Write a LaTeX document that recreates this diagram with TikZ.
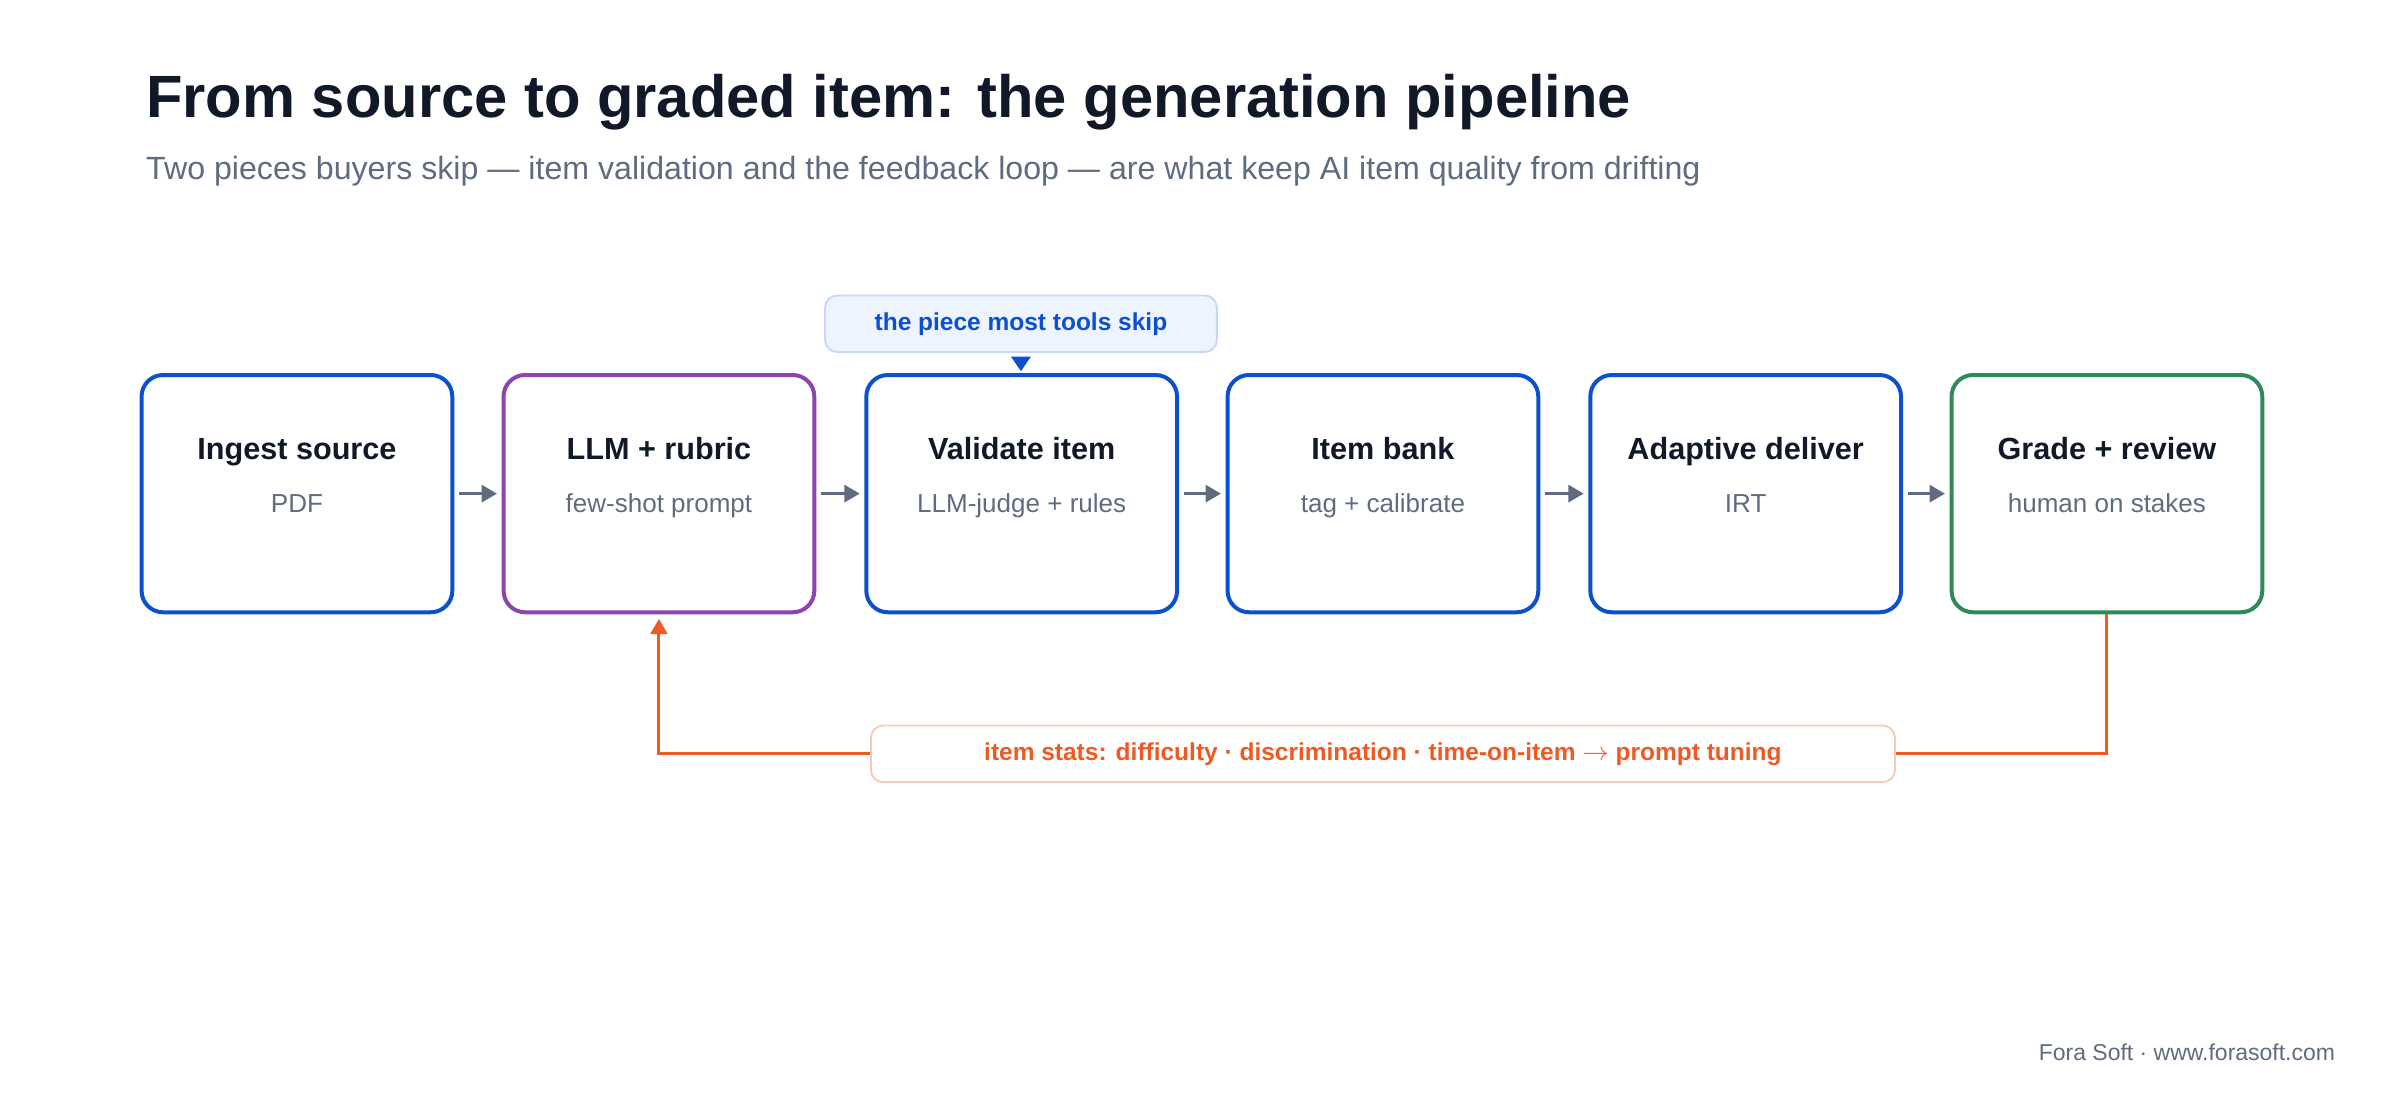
\documentclass[tikz,border=0pt]{standalone}
\usepackage{fontspec}
\setmainfont{Liberation Sans}
\usetikzlibrary{positioning,arrows.meta,calc}
\definecolor{inkdark}{HTML}{111827}
\definecolor{slate}{HTML}{5F6B80}
\definecolor{stageblue}{HTML}{0B50D0}
\definecolor{stagepurple}{HTML}{8E44AD}
\definecolor{stagegreen}{HTML}{2E8B57}
\definecolor{loopred}{HTML}{F05A22}
\definecolor{calloutfill}{HTML}{EEF4FD}
\definecolor{calloutline}{HTML}{C7D7F5}
\definecolor{looplight}{HTML}{F8C9B5}
\tikzset{
  stage/.style={draw=#1,line width=2.6pt,rounded corners=14pt,minimum width=203pt,minimum height=155pt,inner sep=0pt},
  stagetitle/.style={font=\fontsize{20}{24}\selectfont\bfseries,text=inkdark},
  stagenote/.style={font=\fontsize{17}{20}\selectfont,text=slate},
  flow/.style={-{Triangle[length=10pt,width=11pt]},line width=2.2pt,draw=slate},
}
\begin{document}
\begin{tikzpicture}[x=1pt,y=-1pt]
  \useasboundingbox (0,0) rectangle (1568,716);

  % Title
  \node[anchor=base west,font=\fontsize{39}{46}\selectfont\bfseries,text=inkdark] (title) at (92,77) {From source to graded item: the generation pipeline};
  \node[anchor=base west,font=\fontsize{21}{25}\selectfont,text=slate] (subtitle) at (92,117) {Two pieces buyers skip — item validation and the feedback loop — are what keep AI item quality from drifting};

  % Stages
  \node[stage=stageblue] (ingest) at (194,322.5) {};
  \node[stage=stagepurple] (llm) at (430.5,322.5) {};
  \node[stage=stageblue] (validate) at (667.5,322.5) {};
  \node[stage=stageblue] (bank) at (903.5,322.5) {};
  \node[stage=stageblue] (adaptive) at (1140.5,322.5) {};
  \node[stage=stagegreen] (grade) at (1376.5,322.5) {};

  \foreach \n/\t/\s in {ingest/Ingest source/PDF / slide / video,
                        llm/LLM + rubric/few-shot prompt,
                        validate/Validate item/LLM-judge + rules,
                        bank/Item bank/tag + calibrate,
                        adaptive/Adaptive deliver/IRT / heuristic,
                        grade/Grade + review/human on stakes} {
    \node[stagetitle,anchor=base] at ($(\n.center)+(0,-22)$) {\t};
    \node[stagenote,anchor=base] at ($(\n.center)+(0,12)$) {\s};
  }

  % Forward arrows
  \foreach \a/\b in {ingest/llm,llm/validate,validate/bank,bank/adaptive,adaptive/grade}
    \draw[flow] ($(\a.east)+(3,0)$) -- ($(\b.west)+(-3,0)$);

  % Callout
  \node[draw=calloutline,fill=calloutfill,line width=1.2pt,rounded corners=8pt,minimum width=256pt,minimum height=37pt,font=\fontsize{16}{19}\selectfont\bfseries,text=stageblue] (callout) at (667,211.5) {the piece most tools skip};
  \fill[stageblue] (660.5,233) -- (673.5,233) -- (667,242.5) -- cycle;

  % Feedback loop
  \node[draw=looplight,fill=white,line width=1.2pt,rounded corners=8pt,minimum width=669pt,minimum height=37pt,font=\fontsize{16}{19}\selectfont\bfseries,text=loopred] (loop) at (903.5,492.5) {item stats: difficulty · discrimination · time-on-item $\rightarrow$ prompt tuning};
  \coordinate (loopright) at (grade.south |- loop.east);
  \coordinate (loopleft) at (llm.south |- loop.west);
  \draw[loopred,line width=2pt] (grade.south) -- (loopright) -- (loop.east);
  \draw[loopred,line width=2pt,-{Triangle[length=10pt,width=11pt]}] (loop.west) -- (loopleft) -- ($(llm.south)+(0,3)$);

  % Footer
  \node[anchor=base east,font=\fontsize{15}{18}\selectfont,text=slate] (footer) at (1529,693) {Fora Soft · www.forasoft.com};
\end{tikzpicture}
\end{document}
